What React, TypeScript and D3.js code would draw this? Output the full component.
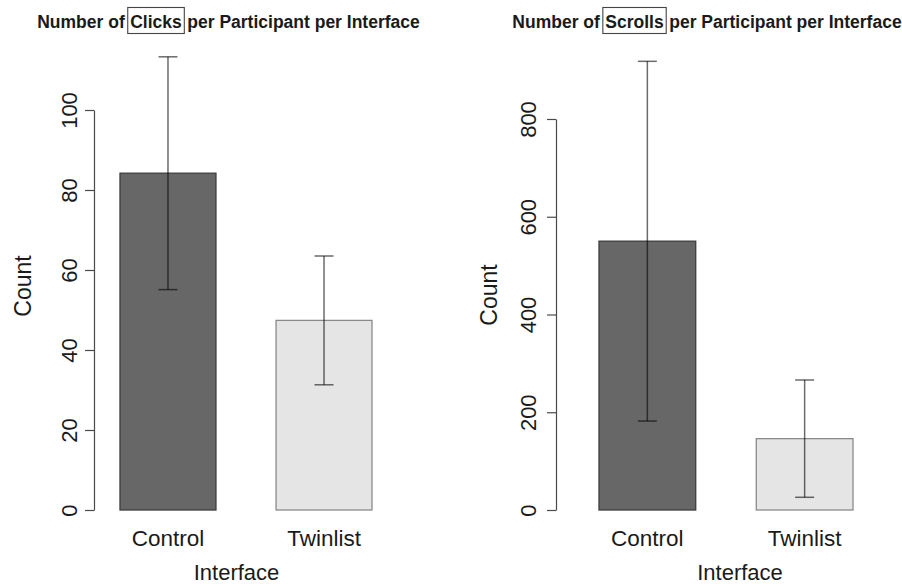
import React, { useEffect, useRef } from "react";
import * as d3 from "d3";

// ---- data ----
const categories = ["Control", "Twinlist"];
const clicksMean = [84.2, 47.4];
const clicksErr = [29.1, 16.1];
const scrollsMean = [550, 146];
const scrollsErr = [368, 120];
const clicksTicks = [0, 20, 40, 60, 80, 100];
const scrollsTicks = [0, 200, 400, 600, 800];
const titlePre = "Number of";
const titlePost = "per Participant per Interface";
const clicksWord = "Clicks";
const scrollsWord = "Scrolls";
const yTitle = "Count";
const xTitle = "Interface";

const FONT = "'Liberation Sans', Arial, Helvetica, sans-serif";
const barFill = ["#676767", "#e5e5e5"];
const barStroke = ["#3c3c3c", "#8a8a8a"];

export default function App() {
  const ref = useRef<SVGSVGElement | null>(null);

  useEffect(() => {
    document.body.style.margin = "0";
    const svg = d3.select(ref.current);
    svg.selectAll("*").remove();
    svg.append("rect").attr("width", 902).attr("height", 584).attr("fill", "#fff");

    const panels = [
      {
        means: clicksMean, errs: clicksErr, ticks: clicksTicks, word: clicksWord,
        axisX: 94, y0: 510, y1: 110, xl: 120, xr: 372,
        titleCx: 228.5, countX: 31, countY: 286, xTitleCx: 236.5, labelD: 17,
      },
      {
        means: scrollsMean, errs: scrollsErr, ticks: scrollsTicks, word: scrollsWord,
        axisX: 556, y0: 510, y1: 119, xl: 599, xr: 853,
        titleCx: 707, countX: 497, countY: 295, xTitleCx: 740, labelD: 20,
      },
    ];

    panels.forEach((p) => {
      const g = svg.append("g");
      const yMax = p.ticks[p.ticks.length - 1];
      const y = d3.scaleLinear().domain([0, yMax]).range([p.y0, p.y1]);
      const x = d3.scaleBand().domain(categories).range([p.xl, p.xr]).paddingInner(0.385).paddingOuter(0);

      // bars
      g.selectAll("rect.bar")
        .data(categories)
        .join("rect")
        .attr("class", "bar")
        .attr("x", (c) => x(c)!)
        .attr("y", (c, i) => y(p.means[i]))
        .attr("width", x.bandwidth())
        .attr("height", (c, i) => y(0) - y(p.means[i]))
        .attr("fill", (c, i) => barFill[i])
        .attr("stroke", (c, i) => barStroke[i])
        .attr("stroke-width", 1.3);

      // error bars
      const cap = 9.5;
      categories.forEach((c, i) => {
        const cx = x(c)! + x.bandwidth() / 2;
        const top = y(p.means[i] + p.errs[i]);
        const bot = y(p.means[i] - p.errs[i]);
        const eg = g.append("g").attr("stroke", "rgba(0,0,0,0.58)").attr("stroke-width", 1.5);
        eg.append("line").attr("x1", cx).attr("x2", cx).attr("y1", top).attr("y2", bot);
        eg.append("line").attr("x1", cx - cap).attr("x2", cx + cap).attr("y1", top).attr("y2", top);
        eg.append("line").attr("x1", cx - cap).attr("x2", cx + cap).attr("y1", bot).attr("y2", bot);
      });

      // y axis
      const ax = g.append("g").attr("transform", `translate(${p.axisX},0)`)
        .call(d3.axisLeft(y).tickValues(p.ticks).tickSize(9).tickSizeOuter(0).tickFormat(d3.format("d")));
      ax.select(".domain").attr("stroke", "#4a4a4a").attr("stroke-width", 1.2);
      ax.selectAll(".tick line").attr("stroke", "#4a4a4a").attr("stroke-width", 1.2);
      ax.selectAll(".tick text")
        .attr("transform", "rotate(-90)")
        .attr("x", 0)
        .attr("y", -p.labelD)
        .attr("dy", 0)
        .attr("text-anchor", "middle")
        .attr("fill", "#1a1a1a")
        .style("font-family", FONT)
        .style("font-size", "22px");

      // category labels
      g.selectAll("text.cat")
        .data(categories)
        .join("text")
        .attr("class", "cat")
        .attr("x", (c) => x(c)! + x.bandwidth() / 2)
        .attr("y", 546)
        .attr("text-anchor", "middle")
        .attr("fill", "#1a1a1a")
        .style("font-family", FONT)
        .style("font-size", "22.5px")
        .text((c) => c);

      // axis titles
      g.append("text")
        .attr("x", p.xTitleCx).attr("y", 580)
        .attr("text-anchor", "middle").attr("fill", "#1a1a1a")
        .style("font-family", FONT).style("font-size", "22px")
        .text(xTitle);
      g.append("text")
        .attr("transform", `translate(${p.countX},${p.countY}) rotate(-90)`)
        .attr("text-anchor", "middle").attr("fill", "#1a1a1a")
        .style("font-family", FONT).style("font-size", "23px")
        .text(yTitle);

      // title with boxed word
      const tg = g.append("g");
      const mk = (s: string) => tg.append("text").attr("y", 28)
        .attr("fill", "#1a1a1a").style("font-family", FONT)
        .style("font-size", "17.5px").style("font-weight", "bold").text(s);
      const t1 = mk(titlePre);
      const t2 = mk(p.word);
      const t3 = mk(titlePost);
      const w1 = (t1.node() as SVGTextElement).getComputedTextLength();
      const w2 = (t2.node() as SVGTextElement).getComputedTextLength();
      const w3 = (t3.node() as SVGTextElement).getComputedTextLength();
      const gap = 3, pad = 2.5;
      const total = w1 + gap + pad + w2 + pad + gap + w3;
      let cx = p.titleCx - total / 2;
      t1.attr("x", cx);
      cx += w1 + gap;
      tg.append("rect").attr("x", cx).attr("y", 7.5).attr("width", w2 + 2 * pad).attr("height", 26)
        .attr("fill", "none").attr("stroke", "#444").attr("stroke-width", 1.1);
      t2.attr("x", cx + pad);
      cx += w2 + 2 * pad + gap;
      t3.attr("x", cx);
    });
  }, []);

  return <svg ref={ref} width={902} height={584} style={{ display: "block" }} />;
}
